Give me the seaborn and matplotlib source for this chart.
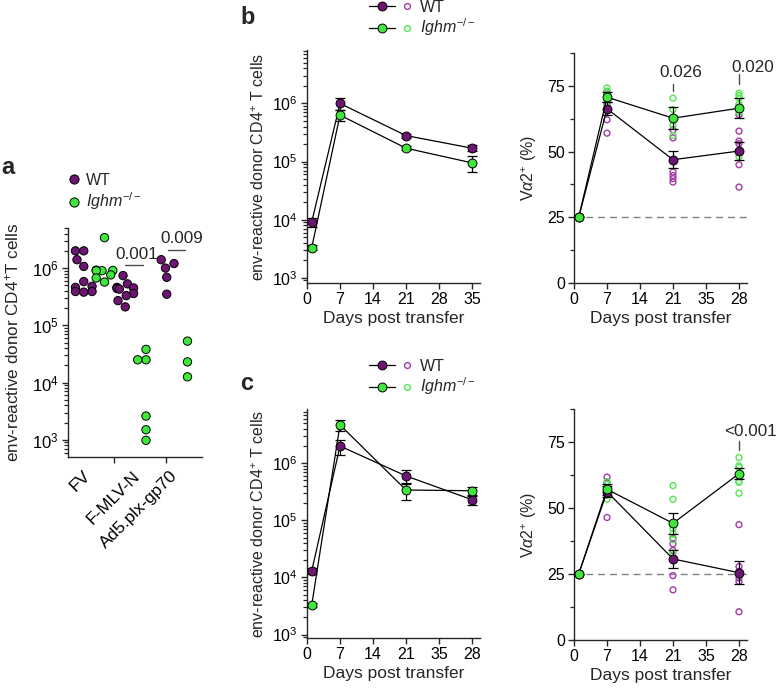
import numpy as np
import pandas as pd
import matplotlib
matplotlib.use("Agg")
import matplotlib.pyplot as plt
import seaborn as sns
from matplotlib.lines import Line2D
from matplotlib.legend_handler import HandlerTuple
from matplotlib.ticker import LogLocator, NullFormatter, MultipleLocator, FixedLocator

# ==========================================
# STYLE
# ==========================================

sns.set_theme(style="ticks", rc={
    "axes.edgecolor": "0.15",
    "axes.linewidth": 1.0,
    "xtick.color": "0.15",
    "ytick.color": "0.15",
    "xtick.labelcolor": "black",
    "ytick.labelcolor": "black",
})
plt.rcParams["font.family"] = ["Liberation Sans", "DejaVu Sans"]
plt.rcParams["mathtext.fontset"] = "custom"
plt.rcParams["mathtext.rm"] = "Liberation Sans"
plt.rcParams["mathtext.it"] = "Liberation Sans:italic"
plt.rcParams["mathtext.bf"] = "Liberation Sans:bold"

PURPLE = "#6e1473"
GREEN = "#3ee83a"
PURPLE_OPEN = "#a23aa6"
GREEN_OPEN = "#55e652"

# ==========================================
# DATA
# ==========================================

# panel a - env-reactive donor CD4+ T cells per group
a_groups = ["FV", "F-MLV-N", "Ad5.plx-gp70"]
a_fv_wt = [2.0e6, 2.0e6, 1.4e6, 1.07e6, 5.8e5, 4.8e5, 4.6e5, 3.9e5, 3.9e5, 3.8e5]
a_fv_ko = [3.4e6, 9.2e5, 9.1e5, 9.0e5, 9.0e5, 7.6e5, 6.7e5, 5.7e5]
a_fmlv_wt = [7.4e5, 5.3e5, 4.6e5, 4.5e5, 4.4e5, 4.3e5, 3.6e5, 3.3e5, 2.7e5, 2.1e5]
a_fmlv_ko = [3.8e4, 2.5e4, 2.5e4, 2.6e3, 1.5e3, 9.8e2]
a_ad5_wt = [1.4e6, 1.2e6, 1.0e6, 6.9e5, 3.5e5]
a_ad5_ko = [5.3e4, 2.3e4, 1.26e4]
a_pvals = ["0.001", "0.009"]

# time axes (last point of the 28-day experiments sits on the 6th tick)
days = [1, 7, 21, 35]
tick_days = [0, 7, 14, 21, 28, 35]
tick_labels_b1 = ["0", "7", "14", "21", "28", "35"]
tick_labels_perm = ["0", "7", "14", "21", "35", "28"]
pts_days = [7, 21, 35]

# panel b left - cell counts (mean, sem)
b1_wt_mean = [9.1e3, 1.0e6, 2.8e5, 1.7e5]
b1_wt_sem = [1.5e3, 2.3e5, 2.2e4, 2.0e4]
b1_ko_mean = [3.3e3, 6.3e5, 1.7e5, 9.5e4]
b1_ko_sem = [3e2, 1.3e5, 1.2e4, 3.0e4]

# panel b right - Va2+ (%)
b2_wt_mean = [25, 66.3, 46.9, 50.2]
b2_wt_sem = [np.nan, 2.5, 3.3, 3.3]
b2_ko_mean = [25, 70.7, 62.7, 66.5]
b2_ko_sem = [np.nan, 1.9, 4.3, 3.8]
b2_wt_pts = [[72.8, 71.7, 68.0, 65.9, 62.1, 57.0],
             [58.3, 55.2, 42.2, 40.9, 39.7, 38.4],
             [64.0, 57.8, 54.0, 53.0, 50.0, 45.0, 36.5]]
b2_ko_pts = [[74.2, 73.0, 71.5, 70.0, 68.5],
             [70.3, 66.0, 63.0, 60.0, 56.1],
             [72.2, 71.3, 70.4, 68.0, 65.0, 48.0]]
b2_pvals = ["0.026", "0.020"]

# panel c left - cell counts (mean, sem)
c1_wt_mean = [1.3e4, 2.0e6, 6.0e5, 2.3e5]
c1_wt_sem = [1.5e3, 6e5, 1.6e5, 4.5e4]
c1_ko_mean = [3.3e3, 4.7e6, 3.4e5, 3.3e5]
c1_ko_sem = [3e2, 1.1e6, 1.1e5, 6e4]

# panel c right - Va2+ (%)
c2_wt_mean = [25, 56.2, 30.7, 25.5]
c2_wt_sem = [np.nan, 2.0, 3.3, 4.4]
c2_ko_mean = [25, 57.1, 44.2, 63.0]
c2_ko_sem = [np.nan, 2.0, 4.0, 2.0]
c2_wt_pts = [[61.7, 59.5, 57.0, 55.0, 46.4],
             [38.6, 36.4, 33.9, 30.3, 24.4, 19.0],
             [43.7, 27.8, 26.0, 23.5, 22.1, 10.7]]
c2_ko_pts = [[60.0, 59.0, 57.0, 55.0, 53.3],
             [58.5, 53.3, 42.3, 40.2, 38.0, 33.0],
             [69.1, 66.0, 65.5, 62.0, 60.0, 59.7, 55.6]]
c2_pval = "<0.001"

# ==========================================
# HELPERS
# ==========================================

def frac(l, t, r, b):
    return [l / 780, 1 - b / 693, (r - l) / 780, (b - t) / 693]


def points_df(wt_pts, ko_pts):
    rows = []
    for d, wt, ko in zip(pts_days, wt_pts, ko_pts):
        rows += [(d, "WT", v) for v in wt]
        rows += [(d, "KO", v) for v in ko]
    return pd.DataFrame(rows, columns=["day", "strain", "pct"])


def draw_means(ax, mean, sem, face):
    ax.errorbar(days, mean, yerr=sem, fmt="none", ecolor="black",
                elinewidth=0.9, capsize=3.5, capthick=0.9, zorder=3)
    sns.lineplot(x=days, y=mean, ax=ax, color="black", lw=0.9,
                 marker="o", markersize=6.4, markerfacecolor=face,
                 markeredgecolor="black", markeredgewidth=0.7,
                 errorbar=None, zorder=4)


def draw_points(ax, df):
    for strain, col in [("WT", PURPLE_OPEN), ("KO", GREEN_OPEN)]:
        sub = df[df["strain"] == strain]
        sns.scatterplot(data=sub, x="day", y="pct", ax=ax, color=col,
                        facecolor="none", edgecolor=col, linewidth=1.0,
                        s=18, zorder=2, legend=False)


def log_axis(ax, lo, hi):
    ax.set_yscale("log")
    ax.set_ylim(10 ** lo, 10 ** hi)
    ax.yaxis.set_major_locator(LogLocator(base=10, numticks=10))
    minor = [m * 10.0 ** e for e in range(2, 7) for m in range(2, 10)]
    ax.yaxis.set_minor_locator(FixedLocator(minor))
    ax.yaxis.set_minor_formatter(NullFormatter())


def time_axis(ax, labels):
    ax.set_xlim(0, 36.7)
    ax.set_xticks(tick_days, labels=labels)
    ax.set_xlabel("Days post transfer", fontsize=12.5, labelpad=3)


def pct_axis(ax):
    ax.axhline(25, color="0.5", ls=(0, (5, 3.5)), lw=1.0, zorder=1)
    ax.set_ylim(0, 87.5)
    ax.set_yticks([0, 25, 50, 75])
    ax.yaxis.set_minor_locator(MultipleLocator(12.5))
    ax.set_ylabel(r"V$\alpha$2$^{+}$ (%)", fontsize=11.5, labelpad=6)


def style(ax):
    sns.despine(ax=ax)
    ax.tick_params(which="major", length=4.5, width=1.0, labelsize=11.5, pad=2)
    ax.tick_params(which="minor", length=2.8, width=0.9, left=True)


# ==========================================
# FIGURE
# ==========================================

fig = plt.figure(figsize=(7.8, 6.93), dpi=100)

ax_a = fig.add_axes(frac(68, 228, 202, 457))
ax_b1 = fig.add_axes(frac(307, 50, 480, 283))
ax_b2 = fig.add_axes(frac(574, 53, 747, 283))
ax_c1 = fig.add_axes(frac(307, 409, 480, 638))
ax_c2 = fig.add_axes(frac(574, 409, 747, 640))

# ---------- panel a ----------
a_rows = []
a_order = []
for grp, wt, ko in zip(a_groups, [a_fv_wt, a_fmlv_wt, a_ad5_wt],
                       [a_fv_ko, a_fmlv_ko, a_ad5_ko]):
    a_order += [grp + " WT", grp + " KO"]
    a_rows += [(grp + " WT", "WT", v) for v in wt]
    a_rows += [(grp + " KO", "KO", v) for v in ko]
df_a = pd.DataFrame(a_rows, columns=["group", "strain", "cells"])

sns.swarmplot(data=df_a, x="group", y="cells", hue="strain", order=a_order,
              palette={"WT": PURPLE, "KO": GREEN}, size=6.0,
              edgecolor="black", linewidth=0.7, log_scale=True,
              legend=False, warn_thresh=1, ax=ax_a)
log_axis(ax_a, 2.70, 6.70)
ax_a.set_xlim(-0.76, 5.7)
style(ax_a)
ax_a.set_xticks([0.2, 2.6, 4.4], labels=a_groups, rotation=45,
                ha="right", va="center", rotation_mode="anchor")
ax_a.set_xticks([1.47, 3.98], minor=True)
ax_a.tick_params(axis="x", which="major", length=0, pad=12, labelsize=12.5)
ax_a.tick_params(axis="x", which="minor", length=4.5, width=1.0)
ax_a.tick_params(axis="y", labelsize=12)
ax_a.set_xlabel("")
ax_a.set_ylabel(r"env-reactive donor CD4$^{+}$T cells", fontsize=12.3, labelpad=8)

# p-values panel a
ax_a.plot([1.99, 2.86], [10 ** 6.06] * 2, color="0.3", lw=1.0)
ax_a.text(2.54, 10 ** 6.23, a_pvals[0], ha="center", va="center", fontsize=12.3)
ax_a.plot([4.08, 4.90], [10 ** 6.32] * 2, color="0.3", lw=1.0)
ax_a.text(4.74, 10 ** 6.51, a_pvals[1], ha="center", va="center", fontsize=12.3,
          clip_on=False)

# ---------- panel b ----------
draw_means(ax_b1, b1_wt_mean, b1_wt_sem, PURPLE)
draw_means(ax_b1, b1_ko_mean, b1_ko_sem, GREEN)
log_axis(ax_b1, 2.91, 6.92)
time_axis(ax_b1, tick_labels_b1)
ax_b1.set_ylabel(r"env-reactive donor CD4$^{+}$ T cells", fontsize=11.5, labelpad=4)
style(ax_b1)

draw_points(ax_b2, points_df(b2_wt_pts, b2_ko_pts))
draw_means(ax_b2, b2_wt_mean, b2_wt_sem, PURPLE)
draw_means(ax_b2, b2_ko_mean, b2_ko_sem, GREEN)
pct_axis(ax_b2)
time_axis(ax_b2, tick_labels_perm)
style(ax_b2)
ax_b2.plot([21, 21], [73.0, 75.8], color="0.3", lw=1.0)
ax_b2.text(22.7, 80.2, b2_pvals[0], ha="center", va="center", fontsize=12.3)
ax_b2.plot([35, 35], [75.7, 79.4], color="0.3", lw=1.0, clip_on=False)
ax_b2.text(38.0, 82.1, b2_pvals[1], ha="center", va="center", fontsize=12.3,
           clip_on=False)

# ---------- panel c ----------
draw_means(ax_c1, c1_wt_mean, c1_wt_sem, PURPLE)
draw_means(ax_c1, c1_ko_mean, c1_ko_sem, GREEN)
log_axis(ax_c1, 2.94, 6.95)
time_axis(ax_c1, tick_labels_perm)
ax_c1.set_ylabel(r"env-reactive donor CD4$^{+}$ T cells", fontsize=11.5, labelpad=4)
style(ax_c1)

draw_points(ax_c2, points_df(c2_wt_pts, c2_ko_pts))
draw_means(ax_c2, c2_wt_mean, c2_wt_sem, PURPLE)
draw_means(ax_c2, c2_ko_mean, c2_ko_sem, GREEN)
pct_axis(ax_c2)
time_axis(ax_c2, tick_labels_perm)
style(ax_c2)
ax_c2.plot([35, 35], [71.8, 75.2], color="0.3", lw=1.0, clip_on=False)
ax_c2.text(37.5, 79.0, c2_pval, ha="center", va="center", fontsize=12.3,
           clip_on=False)

# ==========================================
# LEGENDS & PANEL LETTERS
# ==========================================

ko_label = r"$Ighm^{-/-}$"

handles_a = [
    Line2D([], [], ls="none", marker="o", ms=6.6, mfc=PURPLE, mec="black", mew=0.7),
    Line2D([], [], ls="none", marker="o", ms=6.6, mfc=GREEN, mec="black", mew=0.7),
]
fig.legend(handles_a, ["WT", ko_label], loc="upper left",
           bbox_to_anchor=(67 / 780, 1 - 173 / 693), frameon=False,
           fontsize=11.5, handlelength=0.9, handletextpad=0.3,
           borderpad=0, borderaxespad=0, labelspacing=0.15)


def pair(face, open_col):
    filled = Line2D([], [], color="black", lw=0.9, marker="o", ms=6.4,
                    mfc=face, mec="black", mew=0.7)
    hollow = Line2D([], [], ls="none", marker="o", ms=4.2, mfc="none",
                    mec=open_col, mew=1.0)
    return (filled, hollow)


for top in [0, 359]:
    fig.legend([pair(PURPLE, PURPLE_OPEN), pair(GREEN, GREEN_OPEN)],
               ["WT", ko_label], loc="upper left",
               bbox_to_anchor=(369 / 780, 1 - top / 693), frameon=False,
               fontsize=11.5, handlelength=3.2, handletextpad=0.0,
               borderpad=0, borderaxespad=0, labelspacing=0.1,
               handler_map={tuple: HandlerTuple(ndivide=None, pad=0)})

fig.text(1 / 780, 1 - 168 / 693, "a", fontsize=17, fontweight="bold", va="center")
fig.text(240 / 780, 1 - 17 / 693, "b", fontsize=17, fontweight="bold", va="center")
fig.text(240 / 780, 1 - 383 / 693, "c", fontsize=17, fontweight="bold", va="center")

plt.savefig("out.png", dpi=100)
